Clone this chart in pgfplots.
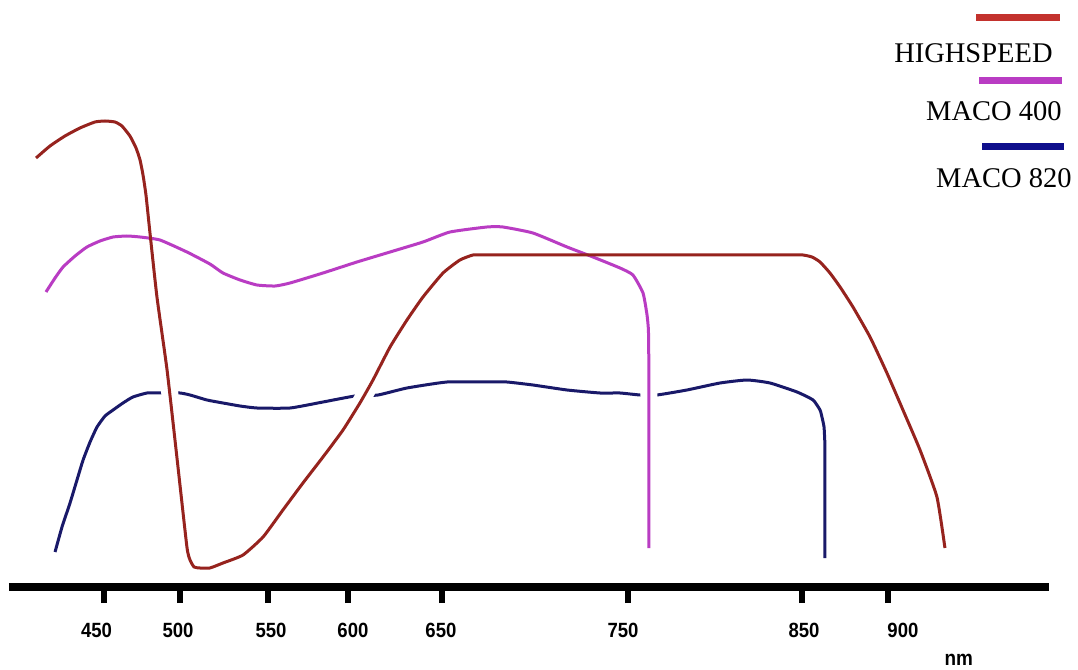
\documentclass[border=0pt]{standalone}
\usepackage{pgfplots}
\usepackage{pgfplotstable}
\pgfplotsset{compat=1.18}
\usepackage{fontspec}
\setmainfont{Liberation Serif}
\newfontfamily\tickfont[FakeStretch=0.9]{Liberation Sans}

\definecolor{hsred}{RGB}{150,35,30}
\definecolor{hsredleg}{RGB}{195,50,45}
\definecolor{macomag}{RGB}{185,60,195}
\definecolor{maconavy}{RGB}{25,25,105}
\definecolor{maconavyleg}{RGB}{15,15,140}

\pgfplotstableread{
x y
411.0 429
419.0 441
427.6 451
436.2 459
444.8 465
450.6 466
456.3 465
460.3 461
464.9 451
468.4 439
470.7 427
472.4 412
474.1 392
476.4 354
480.4 290
486.2 217
491.9 129
497.6 40
499.4 27
501.7 20
505.1 19
510.8 19
518.3 24
529.8 32
541.3 50
552.7 77
564.2 104
575.7 130
587.2 157
596.9 184
604.4 207
614.2 240
623.9 267
633.1 290
644.6 314
654.3 327
661.8 332
668.0 332
676.0 332
688.0 332
705.0 332
730.0 332
760.0 332
790.0 332
815.0 332
832.0 332
844.0 332
851.2 332
856.4 330
861.0 325
866.7 314
872.5 300
879.9 280
889.7 250
899.4 214
908.6 177
918.4 137
928.1 90
932.7 39
}\highspeed

\pgfplotstableread{
x y
416.7 295
421.9 309
426.5 320
433.4 331
440.2 340
447.7 346
455.2 350
463.2 351
470.7 350
482.1 347
497.6 335
510.8 323
518.3 314
528.1 307
537.8 302
548.2 301
556.8 304
575.7 314
595.2 325
614.2 335
633.1 345
648.6 355
669.8 360
679.0 360
696.2 354
715.8 340
730.7 330
746.2 319
753.6 312
759.4 294
761.7 272
762.5 257
762.7 230
762.8 190
762.8 140
762.8 90
762.8 39
}\macofour

\pgfplotstableread{
x y
421.9 35
425.9 60
430.5 84
434.5 107
438.0 127
442.0 145
446.0 160
450.6 171
455.2 177
460.9 184
466.6 190
474.7 194
482.1 194
493.6 194
499.4 192
509.1 187
518.3 184
528.1 181
537.8 179
556.8 179
575.7 185
594.1 191
607.3 192
623.9 199
646.9 205
671.6 205
681.3 205
696.2 202
715.8 197
734.7 194
746.2 194
757.7 192
767.4 192
784.6 197
803.6 204
819.1 207
832.3 204
847.8 195
857.0 187
861.0 177
862.1 170
863.3 160
863.8 142
863.8 115
863.8 85
863.8 55
863.8 29
}\macoeight

\begin{document}
\begin{tikzpicture}
\begin{axis}[
  scale only axis,
  width=520pt, height=293.5pt,
  xmin=395.47, xmax=992.42, ymin=0, ymax=587,
  axis x line=bottom, axis y line=none,
  x axis line style={-, line width=4pt, black},
  ytick=\empty,
  xtick={450,493.6,544.1,590.1,644.0,750.8,850.6,900},
  xticklabels={},
  tick align=outside,
  major tick length=8pt,
  tick style={black, line width=2.75pt},
  extra x ticks={445.7,492.5,545.9,592.9,643.4,747.9,851.8,908.6},
  extra x tick labels={450,500,550,600,650,750,850,900},
  extra x tick style={major tick length=0pt, tick style={draw=none},
    xticklabel style={anchor=center, yshift=-21.75pt}},
  xticklabel style={font=\tickfont\bfseries\fontsize{10.3}{12}\selectfont, text=black},
  clip=false,
  every axis plot/.append style={smooth, tension=0.3, line join=round},
]
\addplot[maconavy, line width=1.5pt] table {\macoeight};
\addplot[white, line width=8.5pt, forget plot] table {\highspeed};
\addplot[white, line width=8.5pt, forget plot] table {\macofour};
\addplot[macomag, line width=1.5pt] table {\macofour};
\addplot[hsred, line width=1.5pt] table {\highspeed};
\coordinate (TL) at (axis cs:390.31,587);
\end{axis}
\begin{scope}[shift={(TL)}, x=0.5pt, y=-0.5pt]
\path[use as bounding box] (0,0) rectangle (1078,670);
\draw[hsredleg, line width=3.5pt] (976,18) -- (1060,18);
\node[anchor=base east, inner sep=0, font=\fontsize{14.25}{16}\selectfont] at (1053,63) {HIGHSPEED};
\draw[macomag, line width=3.5pt] (979,80.5) -- (1062,80.5);
\node[anchor=base east, inner sep=0, font=\fontsize{14.25}{16}\selectfont] at (1062,121) {MACO 400};
\draw[maconavyleg, line width=3.5pt] (982,146.5) -- (1064,146.5);
\node[anchor=base east, inner sep=0, font=\fontsize{14.25}{16}\selectfont] at (1072,188) {MACO 820};
\node[anchor=base, inner sep=0, font=\tickfont\bfseries\fontsize{10.5}{12}\selectfont, text=black] at (958.8,666) {nm};
\end{scope}
\end{tikzpicture}
\end{document}
